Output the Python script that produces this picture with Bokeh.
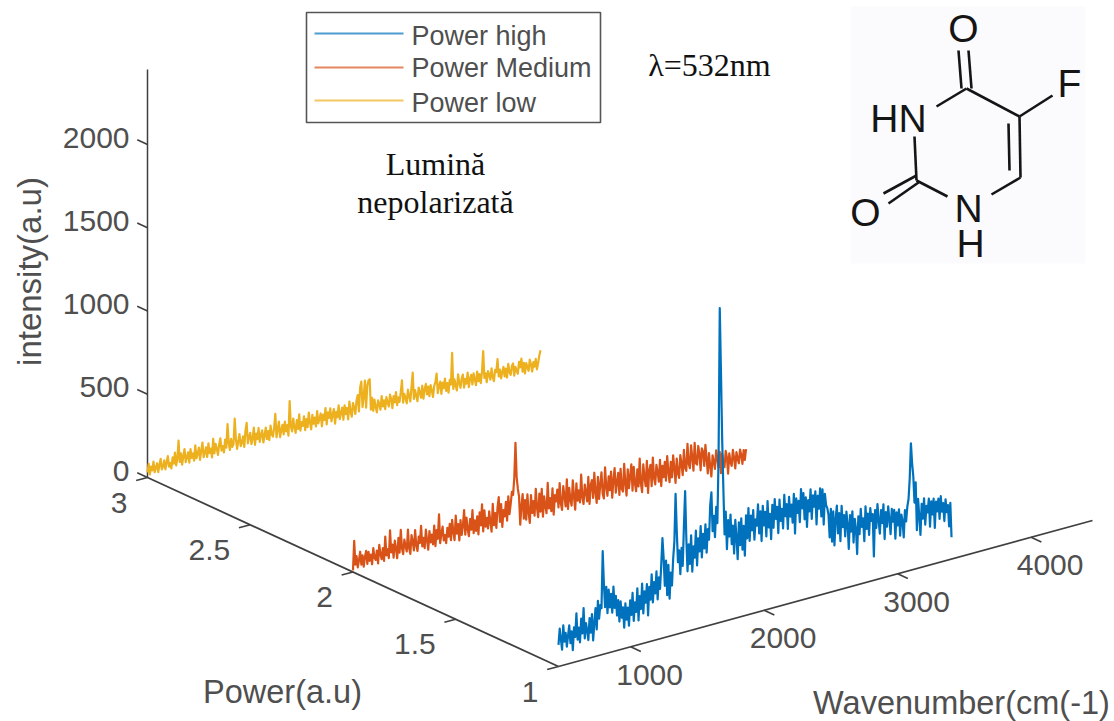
from bokeh.plotting import figure
from bokeh.models import Label
from bokeh.embed import file_html
from bokeh.resources import INLINE
import numpy as np

# ---------- data ----------
z_ticks = [0, 500, 1000, 1500, 2000]
power_ticks = [1, 1.5, 2, 2.5, 3]
power_labels = ["1", "1.5", "2", "2.5", "3"]
wave_ticks = [1000, 2000, 3000, 4000]
series_names = ["Power high", "Power Medium", "Power low"]
series_power = [1, 2, 3]
series_colors = ["#0072BD", "#D95319", "#EDB120"]
WAVE_MIN, WAVE_MAX = 460, 3404
Z_TOP = 2450
AXIS_WAVE_END = 4460

power_high = [
    130, 225, 160, 95, 240, 140, 190, 105, 170, 230,
    120, 190, 75, 210, 150, 290, 130, 200, 110, 250,
    160, 310, 125, 215, 170, 110, 240, 150, 260, 100,
    200, 290, 160, 330, 220, 300, 280, 620, 420, 280,
    400, 240, 380, 270, 350, 235, 390, 260, 330, 210,
    300, 170, 290, 190, 250, 125, 270, 170, 240, 130,
    280, 190, 320, 150, 260, 200, 340, 145, 290, 210,
    360, 180, 310, 240, 350, 160, 330, 250, 400, 230,
    350, 280, 410, 240, 370, 300, 440, 600, 480, 310,
    460, 250, 430, 225, 380, 300, 460, 560, 845, 620,
    430, 500, 355, 510, 400, 640, 845, 560, 360, 520,
    400, 570, 350, 500, 430, 590, 380, 540, 460, 610,
    420, 560, 470, 613, 440, 580, 515, 720, 795, 560,
    650, 520, 700, 600, 1000, 1887, 1500, 1100, 800, 520,
    655, 428, 600, 500, 630, 450, 560, 390, 590, 480,
    350, 570, 430, 590, 400, 540, 360, 600, 460, 640,
    440, 590, 500, 620, 440, 560, 520, 646, 470, 600,
    420, 630, 510, 590, 440, 650, 490, 570, 416, 620,
    480, 650, 530, 600, 440, 640, 510, 580, 460, 660,
    530, 600, 450, 640, 520, 590, 480, 650, 410, 620,
    530, 600, 470, 667, 550, 640, 480, 610, 430, 590,
    520, 650, 470, 610, 540, 630, 430, 600, 520, 640,
    470, 630, 417, 600, 530, 510, 470, 330, 500, 300,
    480, 274, 430, 510, 340, 460, 290, 500, 370, 440,
    310, 458, 380, 230, 430, 330, 450, 260, 400, 340,
    185, 410, 300, 450, 340, 390, 250, 458, 320, 410,
    280, 440, 360, 400, 143, 420, 310, 452, 350, 270,
    410, 330, 440, 230, 390, 300, 420, 340, 250, 400,
    320, 390, 215, 370, 290, 385, 225, 350, 310, 208,
    370, 300, 387, 430, 550, 762, 640, 560, 400, 520,
    230, 416, 310, 196, 380, 290, 410, 250, 360, 320,
    400, 230, 380, 300, 393, 214, 370, 310, 385, 260,
    395, 300, 350, 240, 369, 290, 330, 200, 340, 131,
]
power_medium = [
    10, 185, 40, 90, 20, 60, 110, 30, 85, 15,
    70, 105, 25, 95, 40, 75, 15, 110, 50, 35,
    90, 10, 120, 60, 30, 95, 15, 160, 45, 80,
    25, 190, 55, 100, 20, 120, 70, 10, 130, 40,
    175, 60, 25, 110, 70, 35, 165, 50, 15, 125,
    85, 30, 150, 55, 20, 105, 65, 165, 40, 90,
    25, 135, 70, 10, 120, 50, 95, 35, 145, 20,
    115, 60, 205, 30, 85, 125, 40, 70, 20, 110,
    55, 130, 30, 150, 75, 25, 170, 60, 115, 15,
    135, 45, 95, 190, 40, 140, 70, 25, 125, 60,
    175, 35, 110, 45, 130, 20, 150, 70, 195, 30,
    155, 55, 105, 40, 140, 75, 15, 180, 50, 120,
    30, 150, 210, 60, 165, 25, 125, 85, 170, 55,
    200, 90, 150, 220, 200, 300, 509, 300, 230, 180,
    10, 120, 190, 40, 150, 30, 180, 70, 5, 170,
    60, 130, 40, 200, 85, 25, 165, 55, 190, 20,
    140, 80, 35, 215, 60, 120, 40, 175, 15, 130,
    90, 160, 50, 195, 70, 30, 170, 110, 45, 205,
    25, 150, 75, 40, 190, 90, 10, 165, 60, 120,
    45, 210, 70, 30, 145, 95, 40, 185, 20, 130,
    160, 50, 200, 80, 15, 170, 35, 120, 190, 60,
    30, 215, 95, 40, 155, 70, 180, 20, 125, 195,
    45, 105, 160, 25, 180, 60, 40, 205, 85, 10,
    165, 50, 120, 190, 30, 170, 70, 20, 150, 45,
    210, 60, 5, 170, 90, 35, 185, -10, 125, 155,
    25, 195, 70, 30, 145, 100, 40, 170, 10, 130,
    60, 150, 35, 180, 85, 20, 140, 45, 175, 95,
    5, 150, 60, 30, 165, 110, 40, 190, 80, 60,
    220, 100, 70, 205, 130, 50, 215, 90, 80, 190,
    140, 40, 170, 150, 60, 185, 100, 10, 130, 50,
    -15, 110, 70, 25, 135, 80, 30, 120, -10, 105,
    55, 20, 115, 75, -25, 95, 40, 15, 110, 60,
    -5, 90, 50, 20, 100, 65, 10, 90, 30, 92,
]
power_low = [
    30, 80, 15, 60, 35, 85, 20, 45, 70, 15,
    55, 90, 25, 40, 75, 20, 60, 95, 30, 50,
    15, 80, 40, 105, 25, 65, 170, 40, 90, 20,
    70, 110, 30, 55, 85, 20, 100, 45, 70, 25,
    115, 35, 60, 95, 20, 75, 120, 30, 55, 85,
    25, 105, 45, 70, 15, 125, 35, 90, 60, 20,
    80, 115, 40, 65, 25, 100, 50, 190, 75, 30,
    95, 45, 60, 210, 85, 25, 70, 110, 35, 55,
    90, 25, 120, 165, 40, 75, 100, 30, 60, 125,
    20, 85, 50, 115, 30, 70, 95, 20, 60, 105,
    35, 80, 25, 110, 55, 40, 90, 172, 30, 75,
    120, 25, 65, 95, 35, 110, 50, 85, 20, 226,
    70, 40, 115, 60, 25, 100, 45, 130, 30, 80,
    55, 110, 25, 90, 40, 125, 65, 20, 105, 50,
    85, 30, 120, 45, 70, 100, 20, 90, 55, 125,
    25, 95, 60, 115, 35, 75, 105, 15, 85, 50,
    120, 35, 70, 100, 25, 110, 55, 90, 20, 125,
    60, 30, 110, 80, 40, 120, 150, 50, 190, 225,
    70, 130, 225, 60, 190, 220, 225, 40, 110, 30,
    95, 50, 15, 85, 60, 25, 105, 40, 75, 20,
    90, 55, 30, 100, 70, 15, 85, 45, 105, 25,
    70, 40, 95, 165, 30, 80, 55, 20, 100, 60,
    25, 110, 194, 35, 85, 50, 15, 95, 65, 30,
    100, 20, 75, 105, 40, 85, 25, 90, 55, 15,
    80, 100, 149, 30, 70, 95, 20, 85, 50, 105,
    30, 75, 15, 90, 60, 248, 30, 85, 45, 15,
    110, 55, 25, 80, 100, 20, 70, 40, 105, 15,
    65, 85, 25, 90, 50, 15, 95, 35, 75, 20,
    85, 208, 45, 70, 15, 80, 55, 25, 90, 35,
    10, 75, 60, 137, 30, 70, 15, 50, 80, 20,
    65, 10, 90, 40, 20, 70, 85, 10, 60, 35,
    15, 85, 50, 100, 20, 70, 5, 65, 40, 15,
    80, 50, 5, 60, 30, 75, 10, 45, 90, 119,
]
series_values = [power_high, power_medium, power_low]

# ---------- 3-D view: fixed projection of (wavenumber, power, intensity) ----------
ORIGIN_X, ORIGIN_Y = 558.0, 666.0
WX, WY = 0.1335, -0.0365      # page px per wavenumber unit
PX, PY = -205.5, -94.5        # page px per power unit
ZY = -0.1665                  # page px per intensity unit


def project(w, p, z):
    w = np.asarray(w, dtype=float)
    p = np.asarray(p, dtype=float)
    z = np.asarray(z, dtype=float)
    return (ORIGIN_X + (w - WAVE_MIN) * WX + (p - 1) * PX,
            ORIGIN_Y + (w - WAVE_MIN) * WY + (p - 1) * PY + z * ZY)


W, H = 1114, 721
p = figure(width=W, height=H, x_range=(0, W), y_range=(H, 0),
           output_backend="svg", toolbar_location=None, min_border=0)
p.axis.visible = False
p.grid.visible = False
p.outline_line_color = None
p.background_fill_color = "white"

AXIS = "#404040"
TXT = "#4f4f4f"
SANS = "Liberation Sans"
SERIF = "Liberation Serif"
TICK_PX = "30px"


def label(x, y, text, size=TICK_PX, color=TXT, font=SANS, align="center",
          baseline="middle", angle=0):
    p.add_layout(Label(x=float(x), y=float(y), text=text, text_font=font,
                       text_font_size=size, text_color=color, text_align=align,
                       text_baseline=baseline, angle=angle))


def seg(a, b, color=AXIS, width=1.6, alpha=1.0):
    p.line([float(a[0]), float(b[0])], [float(a[1]), float(b[1])], line_color=color,
           line_width=width, line_alpha=alpha)


# axes
seg(project(WAVE_MIN, 1, 0), project(AXIS_WAVE_END, 1, 0), width=1.8)
seg(project(WAVE_MIN, 3, 0), project(WAVE_MIN, 1, 0), width=1.8)
seg(project(WAVE_MIN, 3, 0), project(WAVE_MIN, 3, Z_TOP), width=1.5)

for t in z_ticks:
    seg(project(WAVE_MIN, 3, t), project(WAVE_MIN, 3.05, t))
    x, y = project(WAVE_MIN, 3, t)
    label(x - 18, y - 7, str(t), align="right")
for t, s in zip(power_ticks, power_labels):
    seg(project(WAVE_MIN, t, 0), project(WAVE_MIN - 85, t, 0))
    x, y = project(WAVE_MIN, t, 0)
    label(x - 20, y + 25, s, align="right")
for t in wave_ticks:
    seg(project(t, 1, 0), project(t, 0.95, 0))
    x, y = project(t, 1, 0)
    label(x + 19, y + 28, str(t))

# traces: the medium one first, the high one crosses over it
for i in (1, 0, 2):
    vals = series_values[i]
    wave = np.linspace(WAVE_MIN, WAVE_MAX, len(vals))
    xs, ys = project(wave, series_power[i], vals)
    p.line(xs, ys, line_color=series_colors[i], line_width=2.2, line_join="round")

# axis titles
label(29, 271, "intensity(a.u)", size="33px", angle=np.pi / 2)
label(282, 691, "Power(a.u)", size="32.5px")
label(961, 702, "Wavenumber(cm(-1)", size="32.5px")

# legend
p.quad(left=[306], right=[600], top=[12], bottom=[122], fill_color="white",
       line_color="#555555", line_width=1.6)
for yy, ty, name, col in zip([33, 67, 100], [35, 67, 102], series_names, series_colors):
    p.line([314, 403], [yy, yy], line_color=col, line_width=2, line_alpha=0.7)
    label(411, ty, name, size="27px", align="left")

# annotations
label(435, 163, "Lumină", size="32px", color="#111111", font=SERIF)
label(435, 201, "nepolarizată", size="32px", color="#111111", font=SERIF)
label(709, 64, "λ=532nm", size="32px", color="#111111", font=SERIF)

# molecule inset
p.quad(left=[850], right=[1085], top=[6], bottom=[263], fill_color="#FBFBFD", line_color=None)
bonds = [
    ((958, 50), (961, 88)), ((968, 50), (971, 88)),
    ((966, 88), (1019, 116)), ((1019, 116), (1052, 95)),
    ((1019, 116), (1020, 177)), ((1008, 123), (1009, 170)),
    ((1020, 177), (991, 194)), ((947, 196), (916, 180)),
    ((916, 180), (914, 136)), ((936, 106), (966, 88)),
    ((916, 175), (883, 193)), ((918, 182), (888, 203)),
]
for a, b in bonds:
    seg(a, b, color="#151515", width=2.6)
for x, y, s in [(963, 28, "O"), (1069, 83, "F"), (898, 118, "HN"),
                (968, 208, "N"), (970, 243, "H"), (865, 212, "O")]:
    label(x, y, s, size="39px", color="#151515")

open("out.html", "w").write(file_html(p, INLINE))
